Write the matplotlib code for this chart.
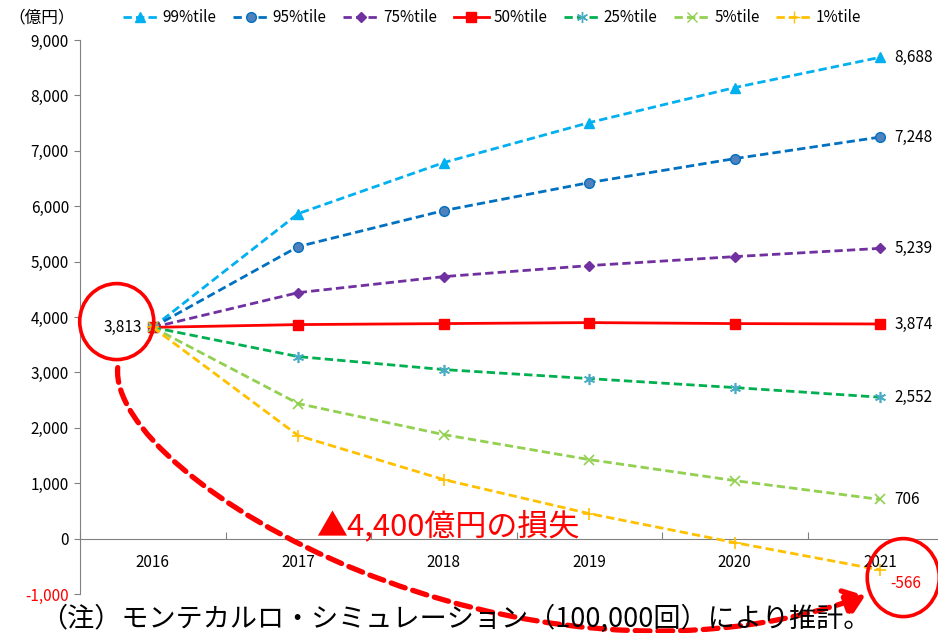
import matplotlib
matplotlib.use("Agg")
import matplotlib.pyplot as plt
import numpy as np
from matplotlib.patches import Ellipse, FancyArrowPatch
from matplotlib.path import Path
from matplotlib.lines import Line2D
from matplotlib.ticker import FuncFormatter

plt.rcParams['font.family'] = ['Noto Sans CJK JP', 'DejaVu Sans']

years = ['2016', '2017', '2018', '2019', '2020', '2021']
p99 = [3813, 5866, 6787, 7509, 8141, 8688]
p95 = [3813, 5271, 5921, 6426, 6859, 7248]
p75 = [3813, 4440, 4729, 4928, 5090, 5239]
p50 = [3813, 3863, 3881, 3899, 3881, 3874]
p25 = [3813, 3285, 3051, 2888, 2726, 2552]
p05 = [3813, 2437, 1877, 1426, 1047, 706]
p01 = [3813, 1859, 1065, 451, -72, -566]
series_names = ['99%tile', '95%tile', '75%tile', '50%tile', '25%tile', '5%tile', '1%tile']
series_vals = [p99, p95, p75, p50, p25, p05, p01]
yticks = [-1000, 0, 1000, 2000, 3000, 4000, 5000, 6000, 7000, 8000, 9000]

colors = ['#00B0F0', '#0070C0', '#7030A0', '#FF0000', '#00B050', '#92D050', '#FFC000']
markers = ['^', 'o', 'D', 's', (6, 2, 0), 'x', '+']
msizes = [7, 7, 5, 7, 8, 7, 8]
mfc = ['#00B0F0', '#4F81BD', '#7030A0', '#FF0000', '#4BACC6', '#92D050', '#FFC000']
mec = ['#00B0F0', '#0070C0', '#7030A0', '#FF0000', '#4BACC6', '#92D050', '#FFC000']
styles = ['--', '--', '--', '-', '--', '--', '--']

W, H = 938, 633
fig = plt.figure(figsize=(W / 100, H / 100), dpi=100)
ax = fig.add_axes([80 / W, (H - 594) / H, (953 - 80) / W, (594 - 40) / H])
x = np.arange(len(years))

lines = []
for name, vals, c, m, ms, fc, ec, ls in zip(series_names, series_vals, colors, markers, msizes, mfc, mec, styles):
    ln, = ax.plot(x, vals, color=c, linestyle=ls, lw=2, marker=m, markersize=ms,
                  markerfacecolor=fc, markeredgecolor=ec,
                  markeredgewidth=1.2 if m in ('x', '+', (6, 2, 0)) else 1,
                  dashes=(3, 1.5) if ls == '--' else (None, None), label=name, clip_on=False, zorder=3)
    lines.append(ln)

ax.set_xlim(-0.5, 5.5)
ax.set_ylim(-1000, 9000)
ax.set_yticks(yticks)
ax.yaxis.set_major_formatter(FuncFormatter(lambda v, p: f'{int(v):,}'))
for lab, v in zip(ax.get_yticklabels(), yticks):
    lab.set_color('#FF0000' if v < 0 else 'black')
ax.tick_params(axis='y', direction='out', length=4, color='#808080', labelsize=11, pad=4)

ax.spines['top'].set_visible(False)
ax.spines['right'].set_visible(False)
ax.spines['left'].set_color('#808080')
ax.spines['bottom'].set_color('#808080')
ax.spines['bottom'].set_position(('data', 0))
ax.set_xticks(np.arange(-0.5, 5.6, 1.0))
ax.set_xticklabels([])
ax.tick_params(axis='x', direction='in', length=5, color='#808080')
for xi, yr in zip(x, years):
    ax.text(xi, -430, yr, ha='center', va='center', fontsize=11)

# end labels
for vals in series_vals[:-1]:
    ax.annotate(f'{vals[-1]:,}', (x[-1], vals[-1]), xytext=(10, 0), textcoords='offset points',
                ha='left', va='center', fontsize=11)
ax.annotate(f'{p01[-1]:,}', (x[-1], p01[-1]), xytext=(18, -10), textcoords='offset points',
            ha='center', va='center', fontsize=11, color='#FF0000')
ax.annotate(f'{p50[0]:,}', (x[0], p50[0]), xytext=(-8, 0), textcoords='offset points',
            ha='right', va='center', fontsize=11)

def px2d(px, py):
    return ((px - 153) / 145.4, (539 - py) / 55.4 * 1000)

# circles
c1 = px2d(117, 322)
ax.add_patch(Ellipse(c1, 74 / 145.4, 76 / 55.4 * 1000, fill=False, ec='#FF0000', lw=2.6, clip_on=False, zorder=5))
c2 = px2d(903, 578)
ax.add_patch(Ellipse(c2, 72 / 145.4, 78 / 55.4 * 1000, fill=False, ec='#FF0000', lw=2.6, clip_on=False, zorder=5))

# dashed curved arrow
pts = [px2d(118, 368), px2d(108, 480), px2d(520, 720), px2d(865, 596)]
path = Path(pts, [Path.MOVETO, Path.CURVE4, Path.CURVE4, Path.CURVE4])
arr = FancyArrowPatch(path=path, arrowstyle='-|>,head_length=0.6,head_width=0.45', color='#FF0000',
                      lw=3.8, linestyle=(0, (2.8, 1.5)), mutation_scale=20, clip_on=False, zorder=6)
ax.add_patch(arr)

ax.text(*px2d(316, 527), '▲4,400億円の損失', color='#FF0000', fontsize=22.3, ha='left', va='center')

fig.text(40 / W, 1 - 619 / H, '（注）モンテカルロ・シミュレーション（100,000回）により推計。',
         fontsize=19.5, ha='left', va='center')
fig.text(8 / W, 1 - 18 / H, '（億円）', fontsize=12, ha='left', va='center')

handles = [Line2D([0], [0], color=l.get_color(), linestyle=l.get_linestyle(), lw=2,
                  dashes=(3, 1.5) if l.get_linestyle() == '--' else (None, None),
                  marker=l.get_marker(), markersize=l.get_markersize(),
                  markerfacecolor=l.get_markerfacecolor(), markeredgecolor=l.get_markeredgecolor())
           for l in lines]
fig.legend(handles, series_names, loc='center', bbox_to_anchor=(492 / W, 1 - 18 / H), ncol=7,
           frameon=False, fontsize=11, handlelength=2.3, handletextpad=0.3, columnspacing=1.1)

fig.savefig('out.png', dpi=100)
